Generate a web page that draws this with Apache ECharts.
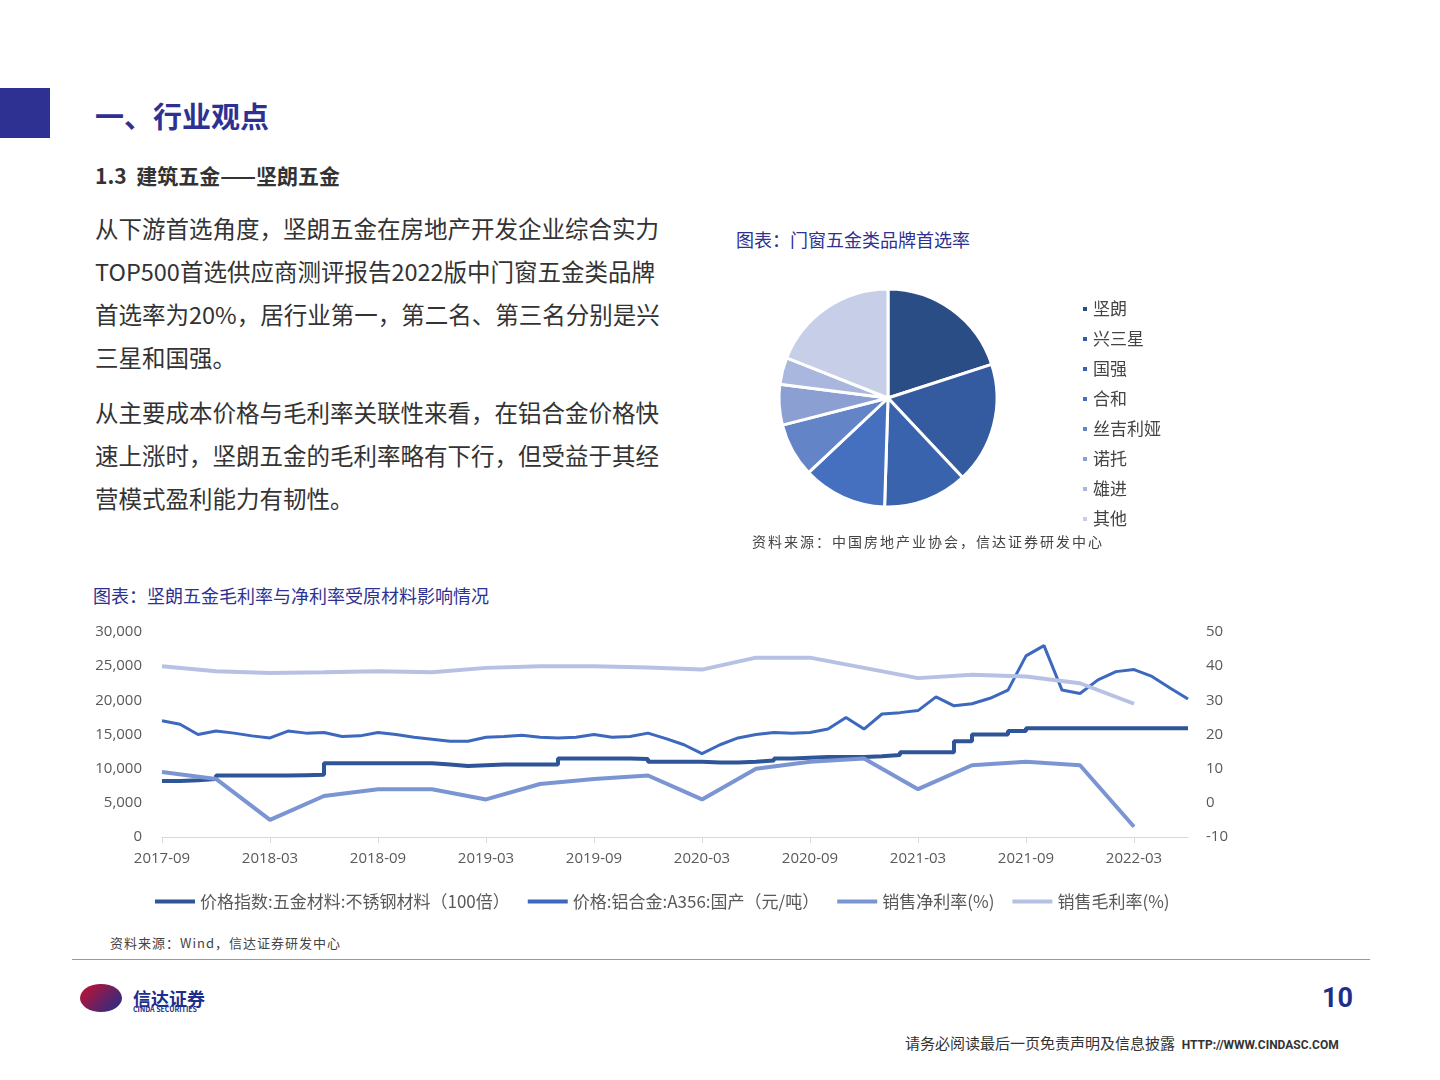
<!DOCTYPE html>
<html><head><meta charset="utf-8">
<script src="https://cdn.jsdelivr.net/npm/echarts@6/dist/echarts.min.js"></script>
<style>
body{margin:0;width:1440px;height:1080px;position:relative;background:#fff;font-family:"Noto Sans CJK SC","Noto Sans",sans-serif;color:#333;overflow:hidden}
.abs{position:absolute}
p.t{margin:0;font-size:23.5px;line-height:43px;color:#333}
</style></head><body>
<div class="abs" style="left:0;top:88px;width:50px;height:50px;background:#2e3192"></div>
<div class="abs" style="left:95px;top:94px;font-size:29px;font-weight:bold;color:#2e3192">一、行业观点</div>
<div class="abs" style="left:95px;top:160px;font-size:21px;font-weight:bold;color:#333">1.3&nbsp; 建筑五金——坚朗五金</div>
<div class="abs" style="left:95px;top:207px;width:580px">
<p class="t">从下游首选角度，坚朗五金在房地产开发企业综合实力TOP500首选供应商测评报告2022版中门窗五金类品牌首选率为20%，居行业第一，第二名、第三名分别是兴三星和国强。</p>
<p class="t" style="margin-top:12px">从主要成本价格与毛利率关联性来看，在铝合金价格快速上涨时，坚朗五金的毛利率略有下行，但受益于其经营模式盈利能力有韧性。</p>
</div>
<div class="abs" style="left:736px;top:226px;font-size:18px;color:#2e3192">图表：门窗五金类品牌首选率</div>
<div id="pie" class="abs" style="left:760px;top:280px;width:460px;height:256px"></div>
<div class="abs" style="left:752px;top:531px;font-size:14px;color:#444;font-family:'Noto Sans CJK SC';letter-spacing:2px">资料来源：中国房地产业协会，信达证券研发中心</div>
<div class="abs" style="left:93px;top:582px;font-size:18px;color:#2e3192">图表：坚朗五金毛利率与净利率受原材料影响情况</div>
<div id="line" class="abs" style="left:80px;top:615px;width:1180px;height:305px"></div>
<div class="abs" style="left:110px;top:933px;font-size:13px;color:#444;letter-spacing:1px">资料来源：Wind，信达证券研发中心</div>
<div class="abs" style="left:72px;top:959px;width:1298px;height:1px;background:#999"></div>
<div class="abs" style="left:80px;top:984px;width:42px;height:28px;border-radius:50%;background:linear-gradient(135deg,#c8102e,#1d2f8c)"></div>
<div class="abs" style="left:133px;top:985px;font-size:18px;font-weight:bold;color:#1d2f8c">信达证券</div>
<div class="abs" style="left:133px;top:1004px;font-size:7px;font-weight:bold;color:#1d2f8c">CINDA SECURITIES</div>
<div class="abs" style="left:1322px;top:982px;font-size:27px;font-weight:bold;color:#1d2f8c;font-family:Roboto">10</div>
<div class="abs" style="left:905px;top:1032px;font-size:15px;color:#333">请务必阅读最后一页免责声明及信息披露&nbsp; <span style="font-size:12px;font-weight:bold;font-family:Roboto">HTTP://WWW.CINDASC.COM</span></div>
<script>
// 饼图数据
var pieNames = ['坚朗', '兴三星', '国强', '合和', '丝吉利娅', '诺托', '雄进', '其他'];
var pieValues = [20, 18, 12.5, 12.5, 8, 6, 4, 19];
var pieColors = ['#2b4d86', '#345a9f', '#3a63ae', '#4470bf', '#6484c8', '#8c9fd3', '#a9b6de', '#c6cee8'];

// 折线图数据 (月度)
var months = [];
for (var y = 2017; y <= 2022; y++) {
    for (var m = 1; m <= 12; m++) {
        if ((y == 2017 && m < 9) || (y == 2022 && m > 6)) continue;
        months.push(y + '-' + (m < 10 ? '0' + m : m));
    }
}
var steelIndex = [8200, 8300, 8500, 9000, 9000, 9000, 9000, 9050, 9100, 10800, 10800, 10800, 10800, 10800, 10800, 10600,
    10400, 10500, 10600, 10600, 10600, 10600, 11500, 11500, 11500, 11500, 11400, 11000, 11000, 11000, 10900, 10900,
    11000, 11200, 11500, 11600, 11700, 11700, 11700, 11800, 12000, 12400, 12400, 12400, 14000, 15000, 15000, 15500,
    15900, 15900, 15900, 15900, 15900, 15900, 15900, 15900, 15900, 15900];
var alPrice = [17000, 16500, 15000, 15500, 15200, 14800, 14500, 15500, 15200, 15300, 14700, 14800, 15300, 15000, 14600, 14300,
    14000, 14000, 14600, 14700, 14900, 14600, 14500, 14600, 15000, 14600, 14700, 15200, 14400, 13500, 12200, 13500,
    14500, 15000, 15300, 15200, 15300, 15800, 17500, 15800, 18000, 18200, 18500, 20500, 19200, 19500, 20300, 21500,
    26500, 28000, 21500, 21000, 23000, 24200, 24500, 23500, 21800, 20200];
var qMonths = ['2017-09', '2017-12', '2018-03', '2018-06', '2018-09', '2018-12', '2019-03', '2019-06', '2019-09', '2019-12',
    '2020-03', '2020-06', '2020-09', '2020-12', '2021-03', '2021-06', '2021-09', '2021-12', '2022-03'];
var netMargin = [9, 7, -5, 2, 4, 4, 1, 5.5, 7, 8, 1, 10, 12, 13, 4, 11, 12, 11, -7];
var grossMargin = [40, 38.5, 38, 38.2, 38.5, 38.2, 39.5, 40, 40, 39.6, 39, 42.5, 42.5, 39.5, 36.5, 37.5, 37, 35, 29];

function toMonthly(vals) {
    return months.map(function (mo) {
        var i = qMonths.indexOf(mo);
        return i < 0 ? null : vals[i];
    });
}

var pieChart = echarts.init(document.getElementById('pie'));
pieChart.setOption({
    color: pieColors,
    legend: {
        orient: 'vertical', left: 316, top: 15, itemWidth: 6, itemHeight: 6, itemGap: 12,
        icon: 'rect', textStyle: {fontSize: 17, lineHeight: 18, color: '#444', fontFamily: 'Noto Sans CJK SC'},
        data: pieNames
    },
    series: [{
        type: 'pie', center: [128, 118], radius: 109, startAngle: 90, clockwise: true,
        label: {show: false}, silent: true, animation: false,
        itemStyle: {borderColor: '#fff', borderWidth: 3},
        data: pieNames.map(function (n, i) { return {name: n, value: pieValues[i]}; })
    }]
});

var lineChart = echarts.init(document.getElementById('line'));
lineChart.setOption({
    animation: false,
    textStyle: {fontFamily: 'Open Sans'},
    grid: {left: 82, right: 72, top: 17, height: 205},
    legend: {
        top: 273, left: 70, itemWidth: 40, itemHeight: 4, itemGap: 18, icon: 'rect',
        textStyle: {fontSize: 17, color: '#595959', fontFamily: 'Noto Sans CJK SC'},
        data: ['价格指数:五金材料:不锈钢材料（100倍）', '价格:铝合金:A356:国产（元/吨）', '销售净利率(%)', '销售毛利率(%)']
    },
    xAxis: {
        type: 'category', data: months, boundaryGap: false,
        axisLine: {lineStyle: {color: '#d9d9d9'}},
        axisTick: {show: true, interval: 5, length: 6, lineStyle: {color: '#d9d9d9'}},
        axisLabel: {interval: 5, color: '#595959', fontSize: 15, margin: 14, fontFamily: 'Open Sans'}
    },
    yAxis: [{
        type: 'value', min: 0, max: 30000, interval: 5000, splitLine: {show: false},
        axisLabel: {color: '#595959', fontSize: 15, margin: 20, fontFamily: 'Open Sans', formatter: function (v) { return v.toLocaleString('en-US'); }}
    }, {
        type: 'value', min: -10, max: 50, interval: 10, splitLine: {show: false},
        axisLabel: {color: '#595959', fontSize: 15, margin: 18, fontFamily: 'Open Sans'}
    }],
    series: [
        {name: '价格指数:五金材料:不锈钢材料（100倍）', type: 'line', step: 'end', showSymbol: false, data: steelIndex,
            color: '#2e5597', lineStyle: {width: 4}},
        {name: '价格:铝合金:A356:国产（元/吨）', type: 'line', showSymbol: false, data: alPrice,
            color: '#3c68bd', lineStyle: {width: 3}},
        {name: '销售净利率(%)', type: 'line', yAxisIndex: 1, showSymbol: false, connectNulls: true, data: toMonthly(netMargin),
            color: '#7b94d2', lineStyle: {width: 4}},
        {name: '销售毛利率(%)', type: 'line', yAxisIndex: 1, showSymbol: false, connectNulls: true, data: toMonthly(grossMargin),
            color: '#b6c1e3', lineStyle: {width: 4}}
    ]
});
</script>
</body></html>
